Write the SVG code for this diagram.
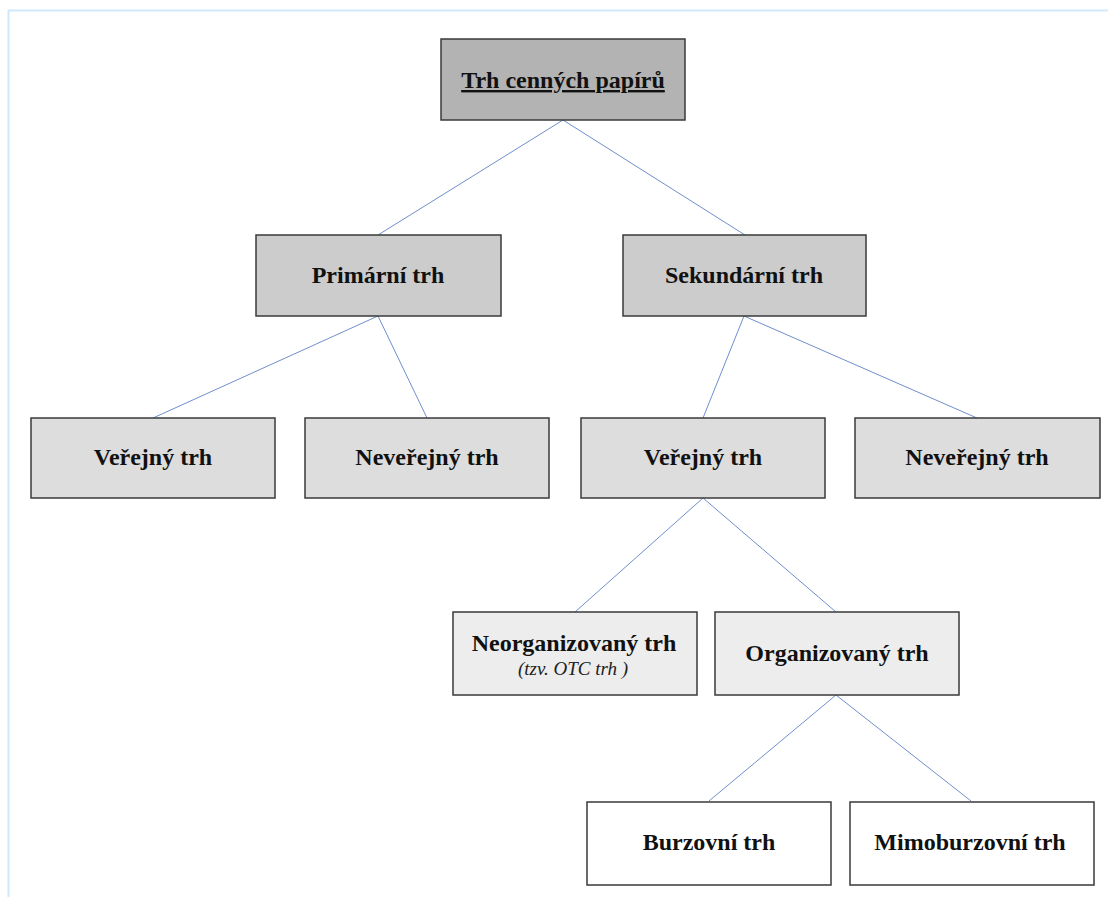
<svg xmlns="http://www.w3.org/2000/svg" width="1108" height="897" viewBox="0 0 1108 897">
<style>
.box{stroke:#3a3a3a;stroke-width:1.5}
.l0{fill:#b3b3b3}.l1{fill:#cccccc}.l2{fill:#dddddd}.l3{fill:#ededed}.l4{fill:#ffffff}
.t{font-family:"Liberation Serif","Times New Roman",serif;font-weight:bold;font-size:24px;fill:#111;text-anchor:middle}
.i{font-family:"Liberation Serif","Times New Roman",serif;font-style:italic;font-size:19px;fill:#222;text-anchor:middle}
.c line{stroke:#6f8fcc;stroke-width:1}
</style>
<rect x="0" y="0" width="1108" height="897" fill="#ffffff"/>
<path d="M8.5 897 V10.5 H1108" fill="none" stroke="#cfe9fa" stroke-width="2"/>
<g class="c" id="connectors">
<line x1="563" y1="120" x2="378" y2="235"/>
<line x1="563" y1="120" x2="745" y2="235"/>
<line x1="378" y1="316" x2="153" y2="418"/>
<line x1="378" y1="316" x2="427" y2="418"/>
<line x1="744" y1="316" x2="703" y2="418"/>
<line x1="744" y1="316" x2="977" y2="418"/>
<line x1="703" y1="498" x2="575" y2="612"/>
<line x1="703" y1="498" x2="836" y2="612"/>
<line x1="836" y1="695" x2="709" y2="801"/>
<line x1="836" y1="695" x2="971" y2="801"/>
</g>
<g id="n-root"><rect class="box l0" x="441" y="39" width="244" height="81"/><text class="t" x="563" y="88" text-decoration="underline">Trh cenných papírů</text></g>
<g id="n-prim"><rect class="box l1" x="256" y="235" width="245" height="81"/><text class="t" x="378" y="283">Primární trh</text></g>
<g id="n-sek"><rect class="box l1" x="623" y="235" width="243" height="81"/><text class="t" x="744" y="283">Sekundární trh</text></g>
<g id="n-ver1"><rect class="box l2" x="31" y="418" width="244" height="80"/><text class="t" x="153" y="465">Veřejný trh</text></g>
<g id="n-nev1"><rect class="box l2" x="305" y="418" width="244" height="80"/><text class="t" x="427" y="465">Neveřejný trh</text></g>
<g id="n-ver2"><rect class="box l2" x="581" y="418" width="244" height="80"/><text class="t" x="703" y="465">Veřejný trh</text></g>
<g id="n-nev2"><rect class="box l2" x="855" y="418" width="245" height="80"/><text class="t" x="977" y="465">Neveřejný trh</text></g>
<g id="n-neorg"><rect class="box l3" x="453" y="612" width="244" height="83"/><text class="t" x="574" y="651">Neorganizovaný trh</text><text class="i" x="573" y="675">(tzv. OTC trh )</text></g>
<g id="n-org"><rect class="box l3" x="715" y="612" width="244" height="83"/><text class="t" x="837" y="661">Organizovaný trh</text></g>
<g id="n-burz"><rect class="box l4" x="587" y="802" width="244" height="83"/><text class="t" x="709" y="850">Burzovní trh</text></g>
<g id="n-mimo"><rect class="box l4" x="850" y="802" width="244" height="83"/><text class="t" x="970" y="850">Mimoburzovní trh</text></g>
</svg>
